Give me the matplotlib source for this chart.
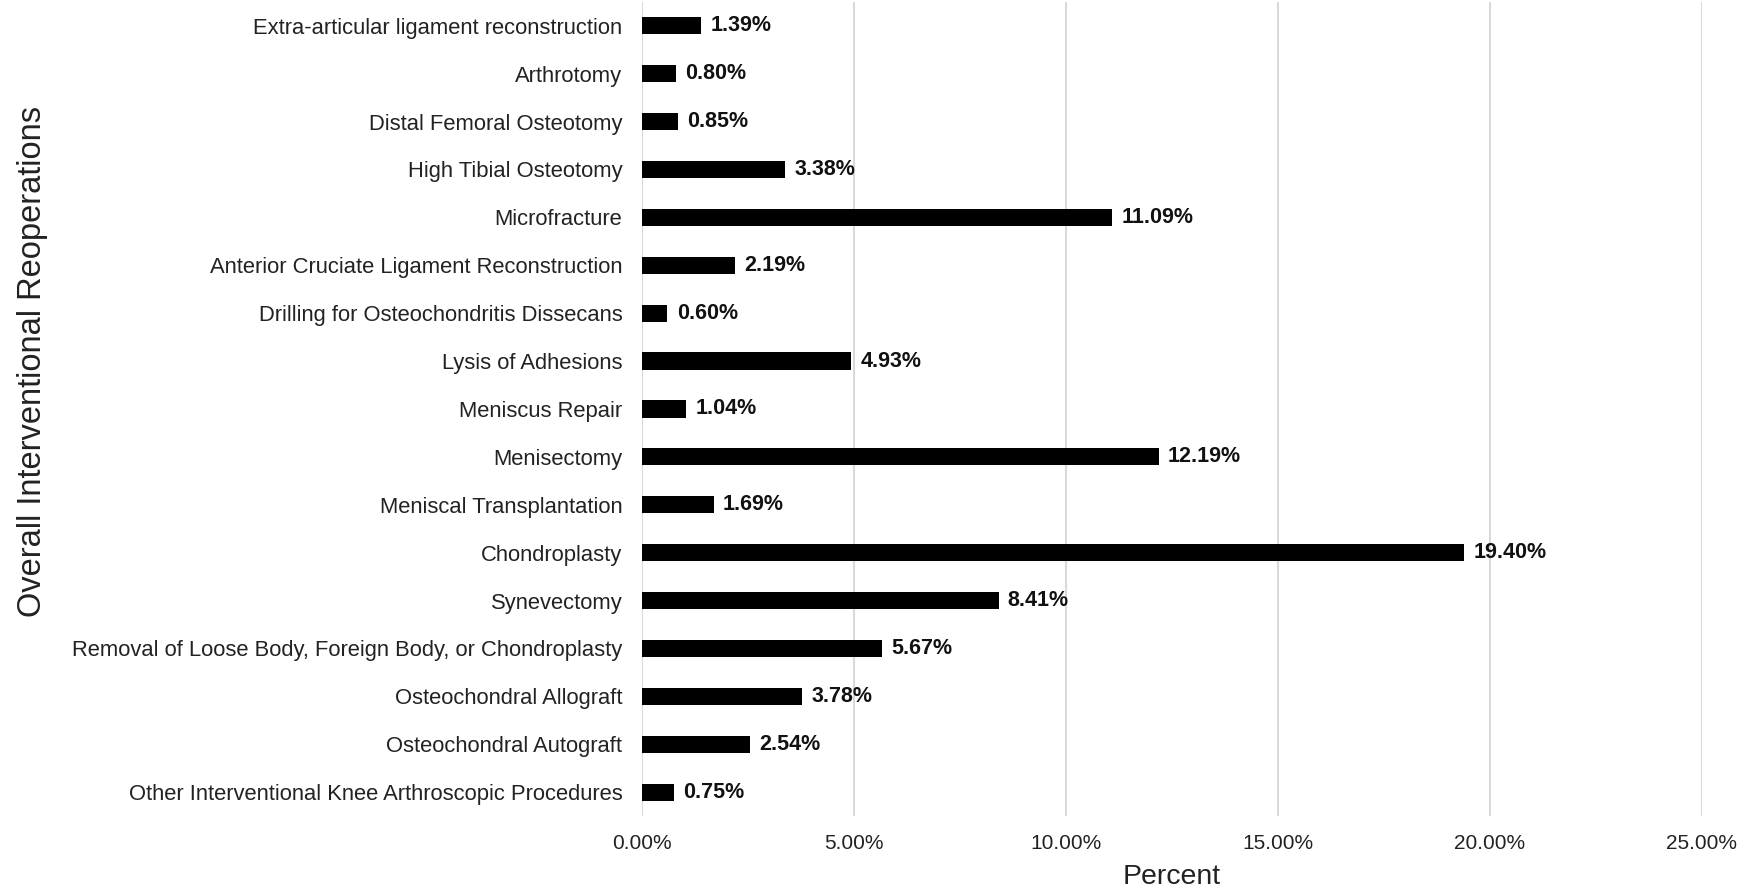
import matplotlib
matplotlib.use("Agg")
import matplotlib.pyplot as plt
from matplotlib.ticker import FuncFormatter

# categories listed bottom to top
procedures = [
    "Other Interventional Knee Arthroscopic Procedures",
    "Osteochondral Autograft",
    "Osteochondral Allograft",
    "Removal of Loose Body, Foreign Body, or Chondroplasty",
    "Synevectomy",
    "Chondroplasty",
    "Meniscal Transplantation",
    "Menisectomy",
    "Meniscus Repair",
    "Lysis of Adhesions",
    "Drilling for Osteochondritis Dissecans",
    "Anterior Cruciate Ligament Reconstruction",
    "Microfracture",
    "High Tibial Osteotomy",
    "Distal Femoral Osteotomy",
    "Arthrotomy",
    "Extra-articular ligament reconstruction",
]
percents = [0.75, 2.54, 3.78, 5.67, 8.41, 19.40, 1.69, 12.19, 1.04, 4.93,
            0.60, 2.19, 11.09, 3.38, 0.85, 0.80, 1.39]
x_ticks = [0, 5, 10, 15, 20, 25]

plt.rcParams['font.family'] = ['Liberation Sans', 'DejaVu Sans']

fig = plt.figure(figsize=(17.42, 8.89), dpi=100)
ax = fig.add_axes([0.3685, 0.082, 0.6085, 0.916])

ypos = list(range(len(procedures)))
ax.barh(ypos, percents, height=0.36, color='black', zorder=3)

# value labels at bar ends
for y, v in zip(ypos, percents):
    ax.text(v + 0.22, y, f"{v:.2f}%", va='center', ha='left',
            fontsize=15.5, fontweight='bold', color='#111111')

ax.set_xlim(0, 25)
ax.set_ylim(-0.5, len(procedures) - 0.5)
ax.set_xticks(x_ticks)
ax.xaxis.set_major_formatter(FuncFormatter(lambda v, p: f"{v:.2f}%"))
ax.set_yticks(ypos)
ax.set_yticklabels(procedures)

ax.grid(axis='x', color='#d9d9d9', linewidth=1.5, zorder=0)
for s in ax.spines.values():
    s.set_visible(False)
ax.tick_params(axis='both', length=0, colors='#222222')
ax.tick_params(axis='y', pad=14, labelsize=15.8)
ax.tick_params(axis='x', pad=13, labelsize=15)

ax.set_xlabel("Percent", fontsize=20.5, color='#222222', labelpad=8)
fig.text(0.0185, 0.593, "Overall Interventional Reoperations", rotation=90,
         va='center', ha='center', fontsize=23.5, color='#222222')

fig.savefig("out.png", dpi=100)
